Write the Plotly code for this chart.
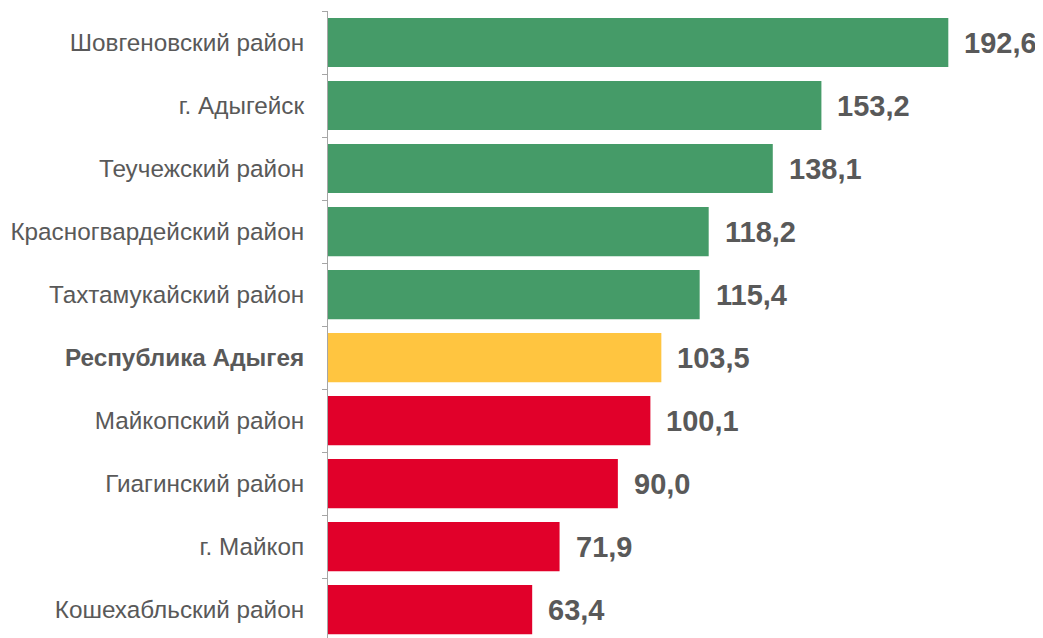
import plotly.graph_objects as go

districts = [
    "Шовгеновский район",
    "г. Адыгейск",
    "Теучежский район",
    "Красногвардейский район",
    "Тахтамукайский район",
    "Республика Адыгея",
    "Майкопский район",
    "Гиагинский район",
    "г. Майкоп",
    "Кошехабльский район",
]
values = [192.6, 153.2, 138.1, 118.2, 115.4, 103.5, 100.1, 90.0, 71.9, 63.4]

GREEN = "#459B68"
YELLOW = "#FFC540"
RED = "#E1002A"
TEXT = "#595959"

# above the republic average -> green, the republic itself -> yellow, below -> red
colors = []
for name, v in zip(districts, values):
    if name == "Республика Адыгея":
        colors.append(YELLOW)
    elif v > values[districts.index("Республика Адыгея")]:
        colors.append(GREEN)
    else:
        colors.append(RED)

tick_text = [f"<b>{d}</b>" if d == "Республика Адыгея" else d for d in districts]


def fmt(v):
    return f"{v:.1f}".replace(".", ",")


fig = go.Figure(
    go.Bar(
        x=values,
        y=districts,
        orientation="h",
        marker=dict(color=colors, line=dict(width=0)),
        width=0.78,
        hoverinfo="skip",
    )
)

for d, v in zip(districts, values):
    fig.add_annotation(
        x=v, y=d, text=f"<b>{fmt(v)}</b>", showarrow=False,
        xanchor="left", xshift=14,
        font=dict(family="Liberation Sans, Arial", size=29, color=TEXT),
    )

fig.update_xaxes(
    range=[0, 222], visible=False, showgrid=False, zeroline=False,
)
fig.update_yaxes(
    type="category",
    categoryorder="array",
    categoryarray=districts,
    tickvals=districts,
    ticktext=tick_text,
    range=[9.45, -0.5],
    tickson="boundaries",
    ticks="outside",
    ticklen=5,
    tickcolor="#A6A6A6",
    showline=True,
    linecolor="#A6A6A6",
    linewidth=1,
    showgrid=False,
    ticklabelstandoff=18,
    tickfont=dict(family="Liberation Sans, Arial", size=24.3, color=TEXT),
)
# page body has an 8px margin, so the figure is 8px smaller than the window
fig.update_layout(
    width=1035,
    height=630,
    margin=dict(l=320, r=0, t=3, b=0, autoexpand=False),
    plot_bgcolor="white",
    paper_bgcolor="white",
    showlegend=False,
    bargap=0.22,
)

fig.write_html("out.html")
